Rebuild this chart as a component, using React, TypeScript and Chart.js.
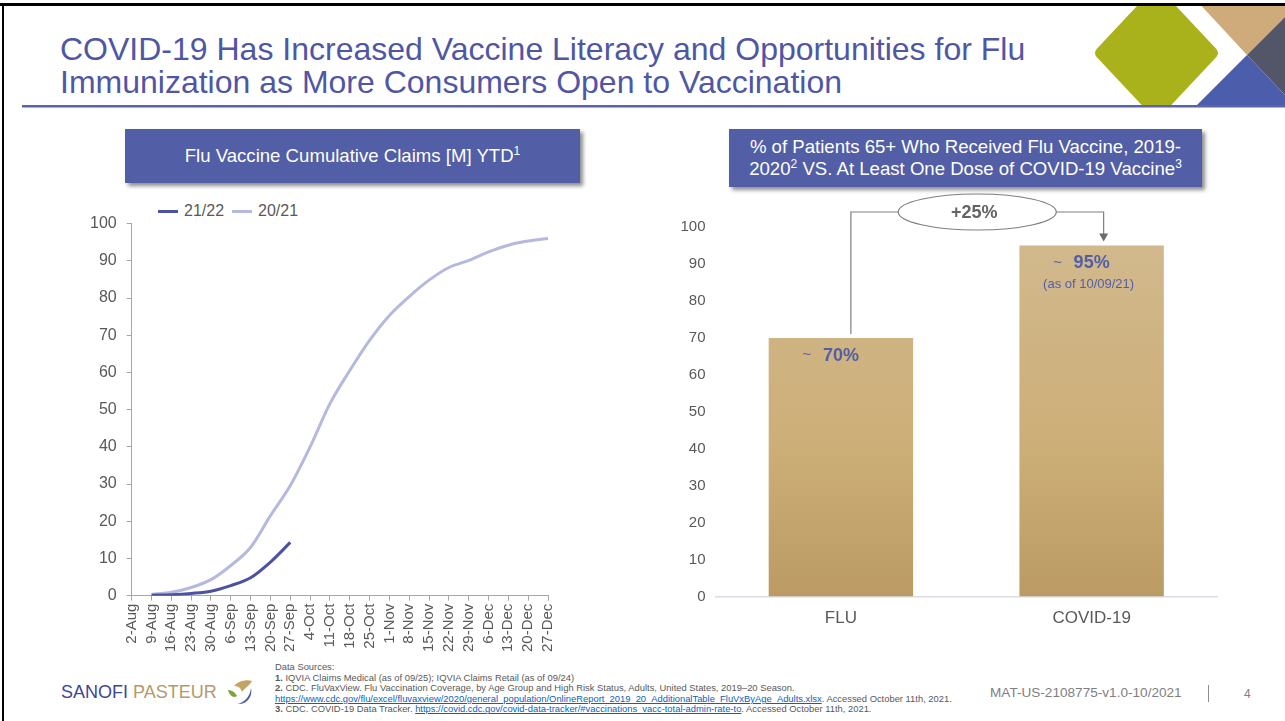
import React, { useEffect, useRef } from "react";
import { Chart, registerables } from "chart.js";
Chart.register(...registerables);

const FONT = '"Liberation Sans", Arial, Helvetica, sans-serif';

// ---- Left chart data ----
const weekLabels = ["2-Aug", "9-Aug", "16-Aug", "23-Aug", "30-Aug", "6-Sep", "13-Sep", "20-Sep", "27-Sep", "4-Oct", "11-Oct", "18-Oct", "25-Oct", "1-Nov", "8-Nov", "15-Nov", "22-Nov", "29-Nov", "6-Dec", "13-Dec", "20-Dec", "27-Dec"];
const claims2122: (number | null)[] = [null, 0.1, 0.25, 0.6, 1.2, 2.7, 4.8, 9.0, 14.3, null, null, null, null, null, null, null, null, null, null, null, null, null];
const claims2021: (number | null)[] = [null, 0.3, 0.9, 2.2, 4.3, 8.1, 13, 21.5, 29.6, 40, 51.6, 60.5, 68.6, 75.3, 80.4, 84.8, 88.2, 90.1, 92.4, 94.2, 95.3, 96];
const seriesNames = ["21/22", "20/21"];
const seriesColors = ["#4b53a1", "#b5b9dd"];

// ---- Right chart data ----
const vaccineCategories = ["FLU", "COVID-19"];
const vaccinePct = [70, 95];
const pctLabels = ["70%", "95%"];
const pctNotes = ["", "(as of 10/09/21)"];
const changeLabel = "+25%";

const annotPlugin = {
  id: "annot",
  afterDatasetsDraw(chart: any) {
    const ctx = chart.ctx;
    const meta = chart.getDatasetMeta(0);
    const area = chart.chartArea;
    ctx.save();
    meta.data.forEach((bar: any, i: number) => {
      const bx = bar.x;
      const by = bar.y;
      ctx.fillStyle = "#525ea5";
      ctx.textAlign = "center";
      ctx.textBaseline = "middle";
      ctx.font = `bold 18px ${FONT}`;
      ctx.fillText(pctLabels[i], bx, by + 18);
      ctx.font = `15px ${FONT}`;
      ctx.fillText("~", bx - 34, by + 17);
      if (pctNotes[i]) {
        ctx.font = `13px ${FONT}`;
        ctx.fillText(pctNotes[i], bx - 3, by + 39);
      }
    });
    const b0 = meta.data[0];
    const b1 = meta.data[1];
    const ey = area.top - 15;
    const ex = (b0.x + b1.x) / 2 + 11;
    const rx = 79;
    const ry = 18;
    ctx.strokeStyle = "#7f7f7f";
    ctx.lineWidth = 1.2;
    ctx.beginPath();
    ctx.moveTo(b0.x + 10, b0.y - 4);
    ctx.lineTo(b0.x + 10, ey);
    ctx.lineTo(ex - rx, ey);
    ctx.stroke();
    const ax = b1.x + 12;
    ctx.beginPath();
    ctx.moveTo(ex + rx, ey);
    ctx.lineTo(ax, ey);
    ctx.lineTo(ax, b1.y - 10);
    ctx.stroke();
    ctx.fillStyle = "#6b6b6b";
    ctx.beginPath();
    ctx.moveTo(ax - 4.5, b1.y - 12);
    ctx.lineTo(ax + 4.5, b1.y - 12);
    ctx.lineTo(ax, b1.y - 4);
    ctx.closePath();
    ctx.fill();
    ctx.beginPath();
    ctx.ellipse(ex, ey, rx, ry, 0, 0, Math.PI * 2);
    ctx.fillStyle = "#ffffff";
    ctx.fill();
    ctx.stroke();
    ctx.fillStyle = "#646464";
    ctx.font = `bold 18px ${FONT}`;
    ctx.textAlign = "center";
    ctx.textBaseline = "middle";
    ctx.fillText(changeLabel, ex - 3, ey + 1);
    ctx.restore();
  },
};

function LineChart() {
  const ref = useRef<HTMLCanvasElement>(null);
  useEffect(() => {
    const chart = new Chart(ref.current!, {
      type: "line",
      data: {
        labels: weekLabels,
        datasets: [
          { label: seriesNames[0], data: claims2122, borderColor: seriesColors[0], backgroundColor: seriesColors[0], borderWidth: 3, pointRadius: 0, cubicInterpolationMode: "monotone" },
          { label: seriesNames[1], data: claims2021, borderColor: seriesColors[1], backgroundColor: seriesColors[1], borderWidth: 3, pointRadius: 0, cubicInterpolationMode: "monotone" },
        ],
      },
      options: {
        animation: false,
        responsive: false,
        maintainAspectRatio: false,
        layout: { padding: { top: 0, right: 37, bottom: 0, left: 20 } },
        plugins: { legend: { display: false }, tooltip: { enabled: false } },
        scales: {
          x: {
            grid: { drawOnChartArea: false, tickLength: 5, color: "#a6a6a6" },
            border: { color: "#a6a6a6" },
            ticks: { autoSkip: false, maxRotation: 90, minRotation: 90, color: "#595959", font: { family: FONT, size: 15 }, padding: 3 },
          },
          y: {
            min: 0,
            max: 100,
            grid: { drawOnChartArea: false, tickLength: 5, color: "#a6a6a6" },
            border: { color: "#a6a6a6" },
            ticks: { stepSize: 10, color: "#595959", font: { family: FONT, size: 16 }, padding: 10 },
          },
        },
      },
    } as any);
    return () => chart.destroy();
  }, []);
  return <canvas ref={ref} width={525} height={451} style={{ position: "absolute", left: 60, top: 204, width: 525, height: 451 }} />;
}

function BarChart() {
  const ref = useRef<HTMLCanvasElement>(null);
  useEffect(() => {
    const chart = new Chart(ref.current!, {
      type: "bar",
      data: {
        labels: vaccineCategories,
        datasets: [
          {
            data: vaccinePct,
            backgroundColor: (c: any) => {
              const a = c.chart.chartArea;
              if (!a) return "#c9ac78";
              const g = c.chart.ctx.createLinearGradient(0, a.top, 0, a.bottom);
              g.addColorStop(0, "#d2ba8f");
              g.addColorStop(0.6, "#ccae77");
              g.addColorStop(1, "#bb9b63");
              return g;
            },
            categoryPercentage: 1,
            barPercentage: 0.576,
          },
        ],
      },
      options: {
        animation: false,
        responsive: false,
        maintainAspectRatio: false,
        layout: { padding: { top: 42, right: 23, bottom: 4, left: 10.5 } },
        plugins: { legend: { display: false }, tooltip: { enabled: false } },
        scales: {
          x: {
            grid: { display: false, drawTicks: false },
            border: { display: true, color: "#dcdce4", width: 1.5 },
            ticks: { color: "#595959", font: { family: FONT, size: 17 }, padding: 12 },
          },
          y: {
            min: 0,
            max: 100,
            grid: { display: false, drawTicks: false },
            border: { display: false },
            ticks: { stepSize: 10, color: "#595959", font: { family: FONT, size: 15 }, padding: 10 },
          },
        },
      },
      plugins: [annotPlugin],
    } as any);
    return () => chart.destroy();
  }, []);
  return <canvas ref={ref} width={580} height={460} style={{ position: "absolute", left: 660, top: 185, width: 580, height: 460 }} />;
}

const headerBox: React.CSSProperties = {
  position: "absolute",
  background: "#525ea5",
  color: "#ffffff",
  fontFamily: FONT,
  fontSize: 18.6,
  textAlign: "center",
  boxShadow: "3px 3px 4px rgba(0,0,0,0.45)",
  display: "flex",
  alignItems: "center",
  justifyContent: "center",
  whiteSpace: "nowrap",
};
const sup: React.CSSProperties = { fontSize: 12, verticalAlign: "super", lineHeight: 0 };

export default function App() {
  useEffect(() => {
    document.body.style.margin = "0";
  }, []);
  return (
    <div style={{ position: "absolute", left: 0, top: 0, width: 1285, height: 721, background: "#fff", overflow: "hidden", fontFamily: FONT }}>
      <svg width={1285} height={110} style={{ position: "absolute", left: 0, top: 0 }}>
        <defs>
          <clipPath id="clipTop">
            <rect x={0} y={5} width={1285} height={100} />
          </clipPath>
        </defs>
        <g clipPath="url(#clipTop)">
          <polygon points="1156.5,-6 1212,53 1156.5,112 1101,53" fill="#a9b21a" stroke="#a9b21a" strokeWidth={12} strokeLinejoin="round" />
          <polygon points="1196,0 1285,0 1285,17 1247,55" fill="#cfab7b" />
          <polygon points="1247,55 1285,17 1285,95" fill="#535568" />
          <polygon points="1247,55 1285,95 1285,110 1192,110" fill="#4c5eab" />
        </g>
        <rect x={22} y={105} width={1263} height={2.5} fill="#5b64a9" />
        <rect x={0} y={3} width={1285} height={3} fill="#000" />
      </svg>
      <div style={{ position: "absolute", left: 2, top: 3, width: 2, height: 718, background: "#000" }} />

      <div style={{ position: "absolute", left: 60, top: 33, fontSize: 32, lineHeight: "33px", color: "#4f57a5", whiteSpace: "nowrap" }}>
        COVID-19 Has Increased Vaccine Literacy and Opportunities for Flu
        <br />
        Immunization as More Consumers Open to Vaccination
      </div>

      <div style={{ ...headerBox, left: 125, top: 129, width: 455, height: 54 }}>
        <span>
          Flu Vaccine Cumulative Claims [M] YTD<span style={sup}>1</span>
        </span>
      </div>

      <div style={{ ...headerBox, left: 729, top: 129, width: 473, height: 58, lineHeight: "22px" }}>
        <span>
          % of Patients 65+ Who Received Flu Vaccine, 2019-
          <br />
          2020<span style={sup}>2</span> VS. At Least One Dose of COVID-19 Vaccine<span style={sup}>3</span>
        </span>
      </div>

      <div style={{ position: "absolute", left: 158, top: 201, height: 20, display: "flex", alignItems: "center", fontSize: 16, color: "#595959" }}>
        <span style={{ display: "inline-block", width: 20, height: 3, background: seriesColors[0], marginRight: 6 }} />
        <span style={{ marginRight: 8 }}>{seriesNames[0]}</span>
        <span style={{ display: "inline-block", width: 20, height: 3, background: seriesColors[1], marginRight: 6 }} />
        <span>{seriesNames[1]}</span>
      </div>

      <LineChart />
      <BarChart />

      <div style={{ position: "absolute", left: 61, top: 682, fontSize: 18, lineHeight: "20px", whiteSpace: "nowrap" }}>
        <span style={{ color: "#3f4695" }}>SANOFI</span> <span style={{ color: "#b59a68" }}>PASTEUR</span>
      </div>
      <svg width={30} height={30} style={{ position: "absolute", left: 225, top: 678 }}>
        <path d="M9 8 C 13 3, 22 1, 27 3 C 25 7, 20 10, 17 14 C 16 10, 13 8, 9 8 Z" fill="#c4a465" />
        <path d="M3 12 C 6 12, 10 14, 12 18 C 9 20, 5 19, 3 12 Z" fill="#77a63a" />
        <path d="M12 26 C 19 25, 25 19, 26 10 C 28 18, 22 27, 12 26 Z" fill="#4a5aa6" />
      </svg>

      <div style={{ position: "absolute", left: 275, top: 662, fontSize: 9.4, lineHeight: "10.6px", color: "#595959", whiteSpace: "nowrap" }}>
        <div>Data Sources:</div>
        <div>
          <b>1.</b> IQVIA Claims Medical (as of 09/25); IQVIA Claims Retail (as of 09/24)
        </div>
        <div>
          <b>2.</b> CDC. FluVaxView. Flu Vaccination Coverage, by Age Group and High Risk Status, Adults, United States, 2019–20 Season.
        </div>
        <div>
          <span style={{ color: "#0563c1", textDecoration: "underline" }}>https://www.cdc.gov/flu/excel/fluvaxview/2020/general_population/OnlineReport_2019_20_AdditionalTable_FluVxByAge_Adults.xlsx</span>. Accessed October 11th, 2021.
        </div>
        <div>
          <b>3.</b> CDC. COVID-19 Data Tracker. <span style={{ color: "#0563c1", textDecoration: "underline" }}>https://covid.cdc.gov/covid-data-tracker/#vaccinations_vacc-total-admin-rate-to</span>. Accessed October 11th, 2021.
        </div>
      </div>

      <div style={{ position: "absolute", left: 990, top: 685, fontSize: 13.6, lineHeight: "16px", color: "#7f7f7f", whiteSpace: "nowrap" }}>MAT-US-2108775-v1.0-10/2021</div>
      <div style={{ position: "absolute", left: 1208, top: 685, width: 1, height: 17, background: "#8c8c8c" }} />
      <div style={{ position: "absolute", left: 1244, top: 686, fontSize: 12, lineHeight: "16px", color: "#7f7f7f" }}>4</div>
    </div>
  );
}
